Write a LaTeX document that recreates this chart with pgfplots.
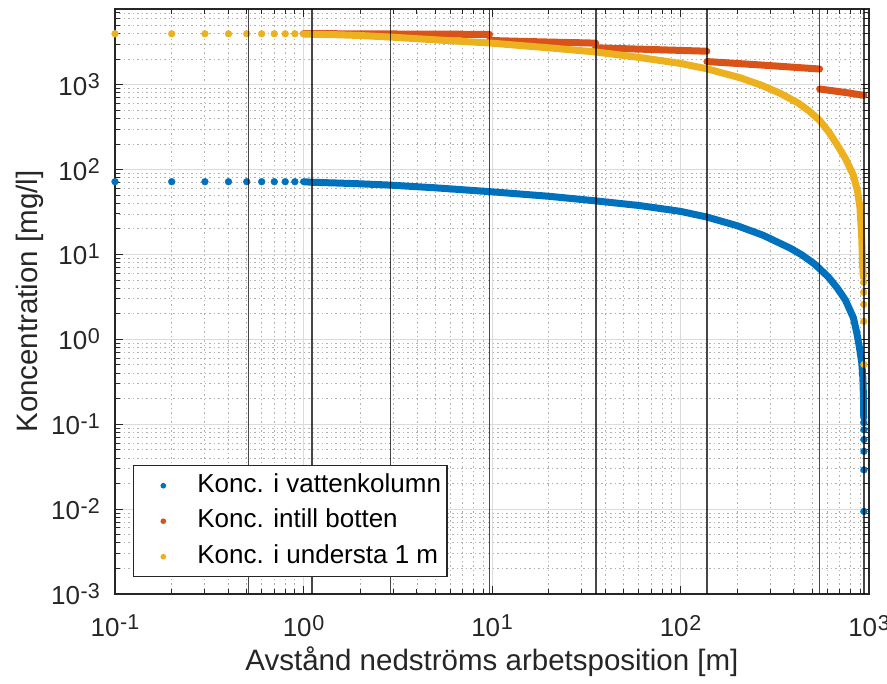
\documentclass[border=0pt]{standalone}
\usepackage{fontspec}
\setmainfont{Liberation Sans}
\usepackage{pgfplots}
\pgfplotsset{compat=1.18}
\definecolor{mblue}{rgb}{0,0.447,0.741}
\definecolor{mred}{rgb}{0.85,0.325,0.098}
\definecolor{myel}{rgb}{0.929,0.694,0.125}
\definecolor{axc}{rgb}{0.15,0.15,0.15}
\newcommand{\ep}[1]{10\kern0.6pt\raisebox{6.5pt}{\fontsize{21.5}{21.5}\selectfont #1}}
\begin{document}
\begin{tikzpicture}
\useasboundingbox (-115pt,-90pt) rectangle (772pt,594pt);
\begin{axis}[
  at={(0pt,0pt)}, anchor=south west,
  scale only axis, width=754pt, height=585pt,
  xmode=log, ymode=log,
  xmin=0.1, xmax=1000, ymin=1e-3, ymax=7800,
  xtick={0.1,1,10,100,1000},
  xticklabels={\ep{-1},\ep{0},\ep{1},\ep{2},\ep{3}},
  ytick={1e-3,1e-2,0.1,1,10,100,1000},
  yticklabels={\ep{-3},\ep{-2},\ep{-1},\ep{0},\ep{1},\ep{2},\ep{3}},
  minor xtick={0.2,0.3,0.4,0.5,0.6,0.7,0.8,0.9,2,3,4,5,6,7,8,9,20,30,40,50,60,70,80,90,200,300,400,500,600,700,800,900},
  minor ytick={0.002,0.003,0.004,0.005,0.006,0.007,0.008,0.009,0.02,0.03,0.04,0.05,0.06,0.07,0.08,0.09,0.2,0.3,0.4,0.5,0.6,0.7,0.8,0.9,2,3,4,5,6,7,8,9,20,30,40,50,60,70,80,90,200,300,400,500,600,700,800,900,2000,3000,4000,5000,6000,7000},
  grid=both,
  major grid style={draw=black!14, line width=1pt},
  minor grid style={draw=black!30, line width=0.9pt, dash pattern=on 1.5pt off 3pt},
  tick align=inside,
  major tick length=8pt, minor tick length=5pt,
  tick style={draw=axc, line width=1pt},
  axis line style={draw=axc, line width=1.3pt},
  xticklabel style={font=\fontsize{26}{30}\selectfont, text=axc, anchor=north, inner sep=0pt, yshift=-21pt},
  yticklabel style={font=\fontsize{26}{30}\selectfont, text=axc, anchor=east, inner sep=0pt, xshift=-15pt},
  xlabel={Avstånd nedströms arbetsposition [m]},
  ylabel={Koncentration [mg/l]},
  xlabel style={font=\fontsize{29.5}{34}\selectfont, text=axc, at={(axis description cs:0.5,-0.1162)}, anchor=center},
  ylabel style={font=\fontsize{29.5}{34}\selectfont, text=axc, at={(axis description cs:-0.1127,0.5)}, anchor=center, rotate=0},
  clip mode=individual,
  legend style={at={(axis description cs:0.0235,0.0285)}, anchor=south west,
    font=\fontsize{26}{30}\selectfont, draw=axc, line width=1.2pt, fill=white,
    inner xsep=6pt, inner ysep=7.5pt, row sep=10.5pt,
    nodes={inner sep=0pt, text height=19pt, text depth=6pt}},
  legend cell align=left,
  legend image code/.code={\path[draw=none, fill=none] (-24pt,-3pt) rectangle (34pt,3pt); \draw[#1, mark size=2.2pt] plot coordinates {(0pt,0pt)};},
]
% legend entries
\addlegendimage{only marks, mark=*, color=mblue}
\addlegendentry{Konc. i vattenkolumn}
\addlegendimage{only marks, mark=*, color=mred}
\addlegendentry{Konc. intill botten}
\addlegendimage{only marks, mark=*, color=myel}
\addlegendentry{Konc. i understa 1 m}

% --- vattenkolumn (blue)
\addplot[forget plot, only marks, mark=*, mark size=3.4pt, color=mblue] coordinates {
(0.1,72) (0.2,72) (0.3,72) (0.4,72) (0.5,72) (0.6,72) (0.7,72) (0.8,72) (0.9,72)};
\addplot[forget plot, mblue, line width=7pt, line cap=round, line join=round] coordinates {
(1.0,72) (1.1,71) (1.5,69.5) (2,68) (2.9,65.6) (5,61) (9.7,55) (20,48.5) (35.5,42.8) (60,37.8)
(100,32.2) (138,27.6) (200,21.8) (275,16.8) (381,11.9) (440,9.9) (507,7.9) (547,6.8)
(610,5.4) (680,4.0) (750,2.9) (826,1.8) (861,1.2) (890,0.8) (915,0.53) (928,0.35) (935,0.2) (938,0.12)};
\addplot[forget plot, only marks, mark=*, mark size=3.4pt, color=mblue] coordinates {
(939,0.104) (940,0.086) (940,0.066) (940,0.048) (940,0.029) (940,0.0094)};

% --- intill botten (red)
\addplot[forget plot, mred, line width=7pt, line cap=round] coordinates {(1,4000) (3,3960) (9.7,3920)};
\addplot[forget plot, mred, line width=7pt, line cap=round] coordinates {(9.7,3320) (18,3200) (35.5,3090)};
\addplot[forget plot, mred, line width=7pt, line cap=round] coordinates {(35.5,2720) (70,2600) (138,2480)};
\addplot[forget plot, mred, line width=7pt, line cap=round] coordinates {(138,1875) (275,1700) (547,1530)};
\addplot[forget plot, mred, line width=7pt, line cap=round] coordinates {(547,890) (720,820) (940,750)};

% --- understa 1 m (yellow)
\addplot[forget plot, only marks, mark=*, mark size=3.4pt, color=myel] coordinates {
(0.1,3980) (0.2,3980) (0.3,3980) (0.4,3980) (0.5,3980) (0.6,3980) (0.7,3980) (0.8,3980) (0.9,3980)};
\addplot[forget plot, myel, line width=7pt, line cap=round, line join=round] coordinates {
(1,3950) (1.5,3880) (2,3800) (2.9,3640) (5,3380) (9.7,3100) (20,2720) (35.5,2430) (60,2100)
(100,1780) (138,1540) (207,1208) (270,982) (337,794) (420,610) (480,492) (547,380) (610,280)
(676,198) (750,135) (826,86) (870,55) (895,36) (915,16) (925,7.5) (933,5.5)};
\addplot[forget plot, only marks, mark=*, mark size=3.4pt, color=myel] coordinates {
(936,4.7) (937,3.58) (938,2.58) (939,1.63) (940,0.506)};

% --- section boundaries
\addplot[forget plot, black, opacity=0.72, line width=1.6pt] coordinates {(0.51,1e-3) (0.51,7800)};
\addplot[forget plot, black, opacity=0.72, line width=1.6pt] coordinates {(1.11,1e-3) (1.11,7800)};
\addplot[forget plot, black, opacity=0.72, line width=1.6pt] coordinates {(2.9,1e-3) (2.9,7800)};
\addplot[forget plot, black, opacity=0.72, line width=1.6pt] coordinates {(9.7,1e-3) (9.7,7800)};
\addplot[forget plot, black, opacity=0.72, line width=1.6pt] coordinates {(35.5,1e-3) (35.5,7800)};
\addplot[forget plot, black, opacity=0.72, line width=1.6pt] coordinates {(138,1e-3) (138,7800)};
\addplot[forget plot, black, opacity=0.72, line width=1.6pt] coordinates {(547,1e-3) (547,7800)};
\addplot[forget plot, black, opacity=0.72, line width=1.6pt] coordinates {(942,1e-3) (942,7800)};
\end{axis}
\end{tikzpicture}
\end{document}
